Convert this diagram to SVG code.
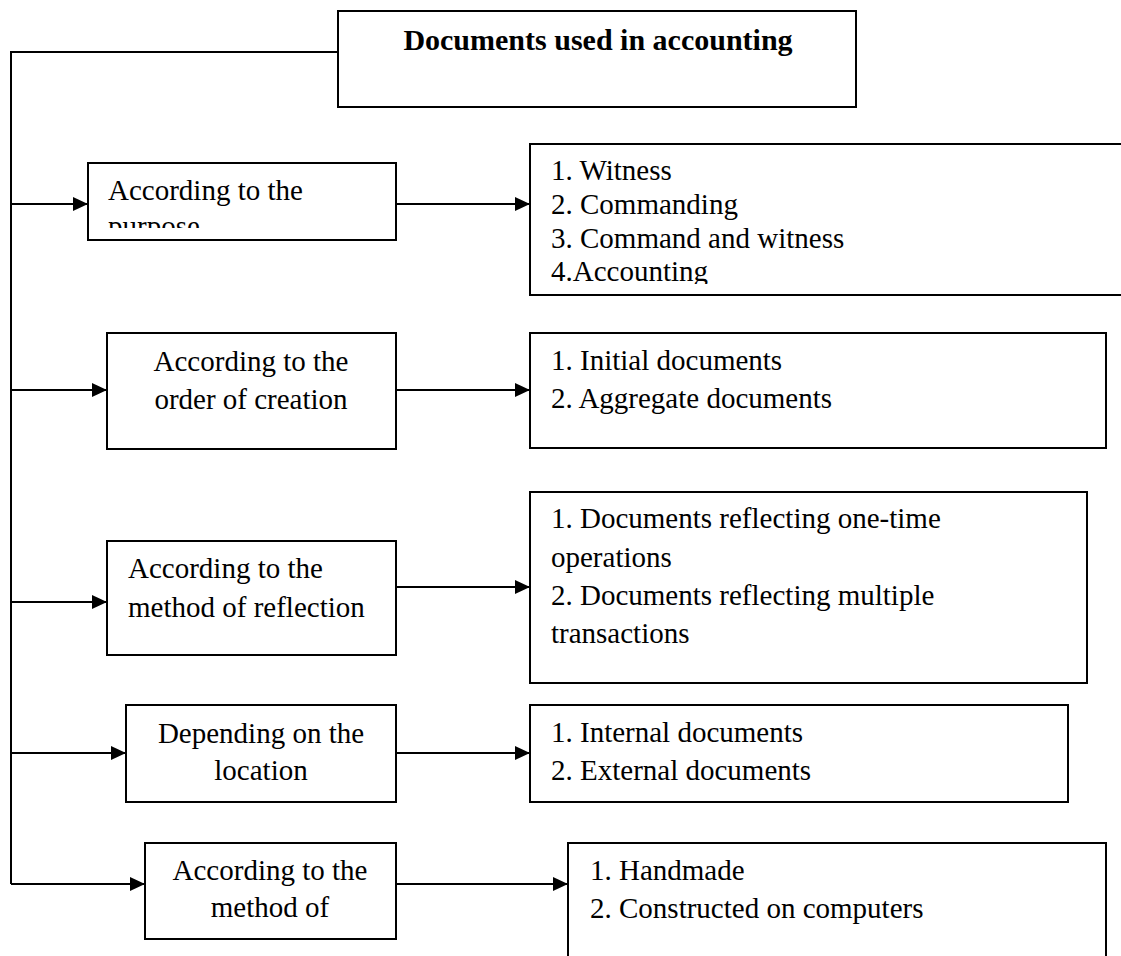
<svg xmlns="http://www.w3.org/2000/svg" width="1121" height="956" viewBox="0 0 1121 956">
<style>
.box{fill:#fff;stroke:#000;stroke-width:2}
.ln{fill:none;stroke:#000;stroke-width:2}
text{font-family:"Liberation Serif","Times New Roman",serif;font-size:29px;fill:#000}
.c{text-anchor:middle}
.t{font-weight:bold;font-size:30px}
</style>
<defs>
<marker id="ah" markerUnits="userSpaceOnUse" markerWidth="16" markerHeight="14" refX="15" refY="7" orient="auto">
<path d="M0,0 L15,7 L0,14 Z" fill="#000"/>
</marker>
<clipPath id="cp1"><rect x="88" y="163" width="308" height="65"/></clipPath>
<clipPath id="cp2"><rect x="529" y="144" width="600" height="140"/></clipPath>
</defs>
<g id="connectors">
<path class="ln" d="M338,52 H11 V884"/>
<path class="ln" d="M11,204 H88" marker-end="url(#ah)"/>
<path class="ln" d="M396,204 H530" marker-end="url(#ah)"/>
<path class="ln" d="M11,390 H107" marker-end="url(#ah)"/>
<path class="ln" d="M396,390 H530" marker-end="url(#ah)"/>
<path class="ln" d="M11,602 H107" marker-end="url(#ah)"/>
<path class="ln" d="M396,587 H530" marker-end="url(#ah)"/>
<path class="ln" d="M11,753 H126" marker-end="url(#ah)"/>
<path class="ln" d="M396,753 H530" marker-end="url(#ah)"/>
<path class="ln" d="M11,884 H145" marker-end="url(#ah)"/>
<path class="ln" d="M396,884 H568" marker-end="url(#ah)"/>
</g>
<g id="root">
<rect class="box" x="338" y="11" width="518" height="96"/>
<text class="t c" x="598" y="50">Documents used in accounting</text>
</g>
<g id="n1">
<rect class="box" x="88" y="163" width="308" height="77"/>
<g clip-path="url(#cp1)">
<text x="108" y="200">According to the</text>
<text x="108" y="236">purpose</text>
</g>
</g>
<g id="r1">
<rect class="box" x="530" y="144" width="620" height="151"/>
<g clip-path="url(#cp2)">
<text x="551" y="180">1. Witness</text>
<text x="551" y="214">2. Commanding</text>
<text x="551" y="248">3. Command and witness</text>
<text x="551" y="281">4.Accounting</text>
</g>
</g>
<g id="n2">
<rect class="box" x="107" y="333" width="289" height="116"/>
<text class="c" x="251" y="371">According to the</text>
<text class="c" x="251" y="409">order of creation</text>
</g>
<g id="r2">
<rect class="box" x="530" y="333" width="576" height="115"/>
<text x="551" y="370">1. Initial documents</text>
<text x="551" y="408">2. Aggregate documents</text>
</g>
<g id="n3">
<rect class="box" x="107" y="541" width="289" height="114"/>
<text x="128" y="578">According to the</text>
<text x="128" y="617">method of reflection</text>
</g>
<g id="r3">
<rect class="box" x="530" y="492" width="557" height="191"/>
<text x="551" y="528">1. Documents reflecting one-time</text>
<text x="551" y="567">operations</text>
<text x="551" y="605">2. Documents reflecting multiple</text>
<text x="551" y="643">transactions</text>
</g>
<g id="n4">
<rect class="box" x="126" y="705" width="270" height="97"/>
<text class="c" x="261" y="743">Depending on the</text>
<text class="c" x="261" y="780">location</text>
</g>
<g id="r4">
<rect class="box" x="530" y="705" width="538" height="97"/>
<text x="551" y="742">1. Internal documents</text>
<text x="551" y="780">2. External documents</text>
</g>
<g id="n5">
<rect class="box" x="145" y="843" width="251" height="96"/>
<text class="c" x="270" y="880">According to the</text>
<text class="c" x="270" y="917">method of</text>
</g>
<g id="r5">
<path class="ln" d="M568,960 V843 H1106 V960"/>
<text x="590" y="880">1. Handmade</text>
<text x="590" y="918">2. Constructed on computers</text>
</g>
</svg>
